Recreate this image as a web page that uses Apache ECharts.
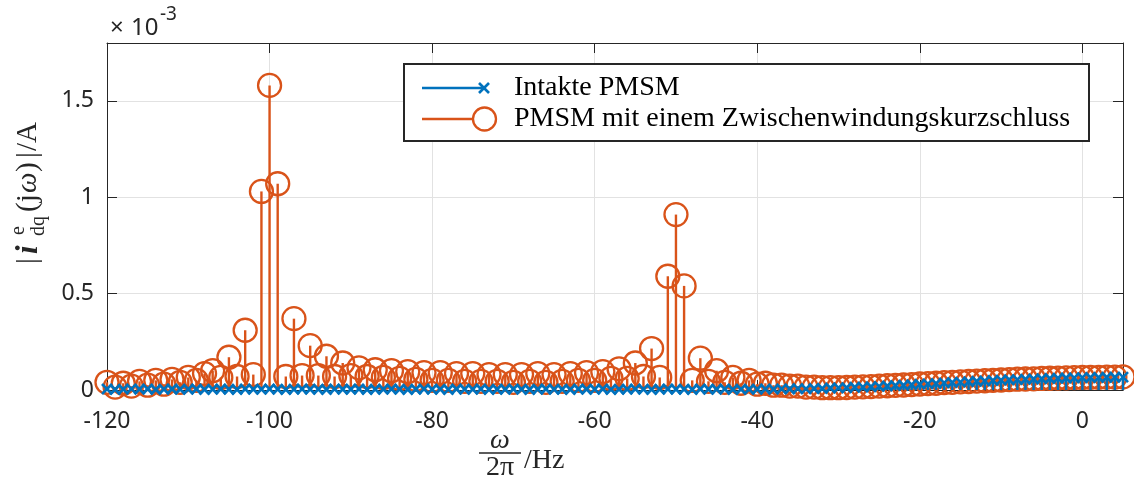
<!DOCTYPE html>
<html>
<head>
<meta charset="utf-8">
<script src="https://cdn.jsdelivr.net/npm/echarts@6/dist/echarts.min.js"></script>
<style>
  html, body { margin: 0; padding: 0; background: #ffffff; }
  #chart { width: 1134px; height: 490px; }
</style>
</head>
<body>
<div id="chart"></div>
<script>
// Spectrum of the dq current (amplitudes in units of 1e-3 A), one line per frequency bin (Hz)
const frequencyHz = [
  -120, -119, -118, -117, -116, -115, -114, -113, -112, -111,
  -110, -109, -108, -107, -106, -105, -104, -103, -102, -101,
  -100, -99, -98, -97, -96, -95, -94, -93, -92, -91,
  -90, -89, -88, -87, -86, -85, -84, -83, -82, -81,
  -80, -79, -78, -77, -76, -75, -74, -73, -72, -71,
  -70, -69, -68, -67, -66, -65, -64, -63, -62, -61,
  -60, -59, -58, -57, -56, -55, -54, -53, -52, -51,
  -50, -49, -48, -47, -46, -45, -44, -43, -42, -41,
  -40, -39, -38, -37, -36, -35, -34, -33, -32, -31,
  -30, -29, -28, -27, -26, -25, -24, -23, -22, -21,
  -20, -19, -18, -17, -16, -15, -14, -13, -12, -11,
  -10, -9, -8, -7, -6, -5, -4, -3, -2, -1,
  0, 1, 2, 3, 4, 5
];

// Healthy machine
const intactAmp = [
  0.005, 0.003, 0.004, 0.006, 0.004, 0.005, 0.003, 0.004, 0.005, 0.004,
  0.004, 0.005, 0.003, 0.004, 0.005, 0.004, 0.003, 0.005, 0.004, 0.004,
  0.005, 0.004, 0.003, 0.004, 0.005, 0.004, 0.004, 0.003, 0.005, 0.004,
  0.004, 0.005, 0.003, 0.004, 0.004, 0.005, 0.004, 0.003, 0.004, 0.005,
  0.004, 0.004, 0.003, 0.005, 0.004, 0.004, 0.005, 0.003, 0.004, 0.004,
  0.005, 0.004, 0.003, 0.004, 0.005, 0.004, 0.004, 0.003, 0.005, 0.004,
  0.004, 0.005, 0.003, 0.004, 0.004, 0.005, 0.004, 0.003, 0.004, 0.005,
  0.004, 0.004, 0.003, 0.005, 0.004, 0.004, 0.005, 0.003, 0.004, 0.004,
  0.004, 0.005, 0.004, 0.006, 0.005, 0.007, 0.006, 0.008, 0.008, 0.010,
  0.011, 0.012, 0.014, 0.015, 0.017, 0.019, 0.021, 0.023, 0.025, 0.027,
  0.030, 0.032, 0.034, 0.037, 0.039, 0.041, 0.043, 0.045, 0.047, 0.049,
  0.051, 0.053, 0.054, 0.056, 0.057, 0.058, 0.060, 0.061, 0.062, 0.063,
  0.064, 0.065, 0.065, 0.066, 0.066, 0.067
];

// Machine with an inter-turn short circuit
const faultAmp = [
  0.040, 0.015, 0.035, 0.020, 0.045, 0.025, 0.050, 0.030, 0.055, 0.040,
  0.065, 0.050, 0.085, 0.100, 0.065, 0.170, 0.070, 0.310, 0.080, 1.030,
  1.580, 1.070, 0.070, 0.370, 0.075, 0.230, 0.075, 0.175, 0.070, 0.140,
  0.075, 0.115, 0.070, 0.105, 0.065, 0.100, 0.060, 0.095, 0.055, 0.090,
  0.050, 0.090, 0.050, 0.085, 0.045, 0.085, 0.045, 0.080, 0.045, 0.080,
  0.040, 0.080, 0.045, 0.085, 0.040, 0.080, 0.045, 0.085, 0.050, 0.090,
  0.050, 0.095, 0.060, 0.110, 0.060, 0.140, 0.070, 0.215, 0.065, 0.590,
  0.910, 0.540, 0.050, 0.165, 0.045, 0.100, 0.040, 0.065, 0.035, 0.050,
  0.030, 0.035, 0.025, 0.025, 0.020, 0.020, 0.015, 0.015, 0.012, 0.012,
  0.012, 0.013, 0.015, 0.016, 0.018, 0.020, 0.022, 0.024, 0.026, 0.028,
  0.031, 0.033, 0.035, 0.038, 0.040, 0.042, 0.044, 0.046, 0.048, 0.050,
  0.052, 0.054, 0.056, 0.057, 0.058, 0.060, 0.061, 0.062, 0.063, 0.064,
  0.065, 0.066, 0.066, 0.067, 0.067, 0.068
];

const seriesNames = ['Intakte PMSM', 'PMSM mit einem Zwischenwindungskurzschluss'];
const xTicks = [-120, -100, -80, -60, -40, -20, 0];
const yTicks = [0, 0.5, 1, 1.5];
const xRange = [-120, 5];
const yRange = [0, 1.8];

const BLUE = '#0072BD';
const ORANGE = '#D95319';
const AXIS = '#262626';
const GRID = '#e2e2e2';
const SERIF = '"Liberation Serif", "DejaVu Serif", serif';
const SANS = '"Noto Sans", "Open Sans", sans-serif';

// Stem plot: vertical line from the zero baseline plus a marker at the value
function stemSeries(name, values, color, marker, z) {
  return {
    type: 'custom',
    name: name,
    z: z,
    clip: false,
    data: frequencyHz.map((f, i) => [f, values[i]]),
    encode: { x: 0, y: 1 },
    renderItem: function (params, api) {
      const p = api.coord([api.value(0), api.value(1)]);
      const b = api.coord([api.value(0), 0]);
      const children = [{
        type: 'line',
        shape: { x1: p[0], y1: b[1], x2: p[0], y2: p[1] },
        style: { stroke: color, lineWidth: 2.4 }
      }];
      if (marker === 'circle') {
        children.push({
          type: 'circle',
          shape: { cx: p[0], cy: p[1], r: 11.5 },
          style: { fill: 'none', stroke: color, lineWidth: 2.3 }
        });
      } else {
        const s = 5;
        children.push({
          type: 'line',
          shape: { x1: p[0] - s, y1: p[1] - s, x2: p[0] + s, y2: p[1] + s },
          style: { stroke: color, lineWidth: 2.7 }
        }, {
          type: 'line',
          shape: { x1: p[0] - s, y1: p[1] + s, x2: p[0] + s, y2: p[1] - s },
          style: { stroke: color, lineWidth: 2.7 }
        });
      }
      return { type: 'group', children: children };
    }
  };
}

const hiddenLabel = { show: false };

const chart = echarts.init(document.getElementById('chart'), null, { renderer: 'canvas' });

// Legend box drawn as graphic elements: short line with the marker at its end
const legendX = 404, legendY = 64, legendW = 685, legendH = 77;
const rowY = [88, 119];
const legendFont = '28px ' + SERIF;
const legendGraphics = [
  {
    type: 'rect',
    shape: { x: legendX, y: legendY, width: legendW, height: legendH },
    style: { fill: '#ffffff', stroke: AXIS, lineWidth: 2 },
    z: 100
  },
  { type: 'line', shape: { x1: 422, y1: rowY[0], x2: 486, y2: rowY[0] }, style: { stroke: BLUE, lineWidth: 2.4 }, z: 101 },
  { type: 'line', shape: { x1: 479, y1: rowY[0] - 5, x2: 489, y2: rowY[0] + 5 }, style: { stroke: BLUE, lineWidth: 2.6 }, z: 101 },
  { type: 'line', shape: { x1: 479, y1: rowY[0] + 5, x2: 489, y2: rowY[0] - 5 }, style: { stroke: BLUE, lineWidth: 2.6 }, z: 101 },
  { type: 'text', x: 514, y: rowY[0], style: { text: seriesNames[0], font: legendFont, fill: '#000000', align: 'left', verticalAlign: 'middle' }, z: 101 },
  { type: 'line', shape: { x1: 422, y1: rowY[1], x2: 473, y2: rowY[1] }, style: { stroke: ORANGE, lineWidth: 2.4 }, z: 101 },
  { type: 'circle', shape: { cx: 484.5, cy: rowY[1], r: 11.5 }, style: { fill: 'none', stroke: ORANGE, lineWidth: 2.3 }, z: 101 },
  { type: 'text', x: 514, y: rowY[1], style: { text: seriesNames[1], font: legendFont, fill: '#000000', align: 'left', verticalAlign: 'middle' }, z: 101 }
];

// Exponent of the y axis
const exponentGraphics = [
  { type: 'text', x: 110, y: 28, style: { text: '×', font: '24px ' + SANS, fill: AXIS, align: 'left', verticalAlign: 'middle' } },
  { type: 'text', x: 131, y: 28, style: { text: '10', font: '24px ' + SANS, fill: AXIS, align: 'left', verticalAlign: 'middle' } },
  { type: 'text', x: 160, y: 15, style: { text: '-3', font: '19px ' + SANS, fill: AXIS, align: 'left', verticalAlign: 'middle' } }
];

// Y axis title |i^e_dq(jω)|/A, written bottom-to-top
const yTitle = {
  type: 'group',
  x: 28,
  y: 264,
  rotation: Math.PI / 2,
  children: [
    { type: 'text', x: 0, y: 0, style: { text: '|', font: '29px ' + SERIF, fill: AXIS, align: 'left', verticalAlign: 'middle' } },
    { type: 'text', x: 10, y: 1, style: { text: 'i', font: 'italic bold 31px ' + SERIF, fill: AXIS, align: 'left', verticalAlign: 'middle' } },
    { type: 'text', x: 29, y: -9, style: { text: 'e', font: '20px ' + SERIF, fill: AXIS, align: 'left', verticalAlign: 'middle' } },
    { type: 'text', x: 28, y: 11, style: { text: 'dq', font: '20px ' + SERIF, fill: AXIS, align: 'left', verticalAlign: 'middle' } },
    { type: 'text', x: 52, y: 0, style: { text: '(j', font: '29px ' + SERIF, fill: AXIS, align: 'left', verticalAlign: 'middle' } },
    { type: 'text', x: 71, y: 0, style: { text: 'ω', font: 'italic 29px ' + SERIF, fill: AXIS, align: 'left', verticalAlign: 'middle' } },
    { type: 'text', x: 92, y: 0, style: { text: ')', font: '29px ' + SERIF, fill: AXIS, align: 'left', verticalAlign: 'middle' } },
    { type: 'text', x: 106, y: 0, style: { text: '|', font: '29px ' + SERIF, fill: AXIS, align: 'left', verticalAlign: 'middle' } },
    { type: 'text', x: 113, y: 0, style: { text: '/A', font: '29px ' + SERIF, fill: AXIS, align: 'left', verticalAlign: 'middle' } }
  ]
};

// X axis title ω/(2π) as a fraction, followed by /Hz
const xTitle = [
  { type: 'text', x: 500, y: 441, style: { text: 'ω', font: 'italic 28px ' + SERIF, fill: AXIS, align: 'center', verticalAlign: 'middle' } },
  { type: 'line', shape: { x1: 479, y1: 453, x2: 521, y2: 453 }, style: { stroke: AXIS, lineWidth: 1.4 } },
  { type: 'text', x: 500, y: 468, style: { text: '2π', font: '28px ' + SERIF, fill: AXIS, align: 'center', verticalAlign: 'middle' } },
  { type: 'text', x: 524, y: 461, style: { text: '/Hz', font: '28px ' + SERIF, fill: AXIS, align: 'left', verticalAlign: 'middle' } }
];

const option = {
  animation: false,
  backgroundColor: '#ffffff',
  grid: { left: 107, right: 11, top: 43, bottom: 100, containLabel: false },
  xAxis: [
    {
      type: 'value',
      min: xRange[0],
      max: xRange[1],
      interval: 20,
      axisLine: { show: true, onZero: false, lineStyle: { color: AXIS, width: 1 } },
      axisTick: { show: true, inside: true, length: 10, lineStyle: { color: AXIS, width: 1 } },
      axisLabel: {
        color: AXIS, fontFamily: SANS, fontSize: 23, margin: 20,
        showMaxLabel: false,
        formatter: v => (xTicks.includes(v) ? String(v) : '')
      },
      splitLine: { show: true, showMinLine: false, showMaxLine: false, lineStyle: { color: GRID, width: 1 } }
    },
    {
      type: 'value',
      position: 'top',
      min: xRange[0],
      max: xRange[1],
      interval: 20,
      axisLine: { show: true, onZero: false, lineStyle: { color: AXIS, width: 1 } },
      axisTick: { show: true, inside: true, length: 10, lineStyle: { color: AXIS, width: 1 } },
      axisLabel: hiddenLabel,
      splitLine: { show: false }
    }
  ],
  yAxis: [
    {
      type: 'value',
      min: yRange[0],
      max: yRange[1],
      interval: 0.5,
      axisLine: { show: true, onZero: false, lineStyle: { color: AXIS, width: 1 } },
      axisTick: { show: true, inside: true, length: 10, lineStyle: { color: AXIS, width: 1 } },
      axisLabel: {
        color: AXIS, fontFamily: SANS, fontSize: 23, margin: 13,
        showMaxLabel: false,
        formatter: v => (yTicks.includes(v) ? String(v) : '')
      },
      splitLine: { show: true, showMinLine: false, showMaxLine: false, lineStyle: { color: GRID, width: 1 } }
    },
    {
      type: 'value',
      position: 'right',
      min: yRange[0],
      max: yRange[1],
      interval: 0.5,
      axisLine: { show: true, onZero: false, lineStyle: { color: AXIS, width: 1 } },
      axisTick: { show: true, inside: true, length: 10, lineStyle: { color: AXIS, width: 1 } },
      axisLabel: hiddenLabel,
      splitLine: { show: false }
    }
  ],
  series: [
    stemSeries(seriesNames[1], faultAmp, ORANGE, 'circle', 2),
    stemSeries(seriesNames[0], intactAmp, BLUE, 'cross', 3)
  ],
  graphic: [].concat(exponentGraphics, [yTitle], xTitle, legendGraphics)
};

chart.setOption(option);
</script>
</body>
</html>
